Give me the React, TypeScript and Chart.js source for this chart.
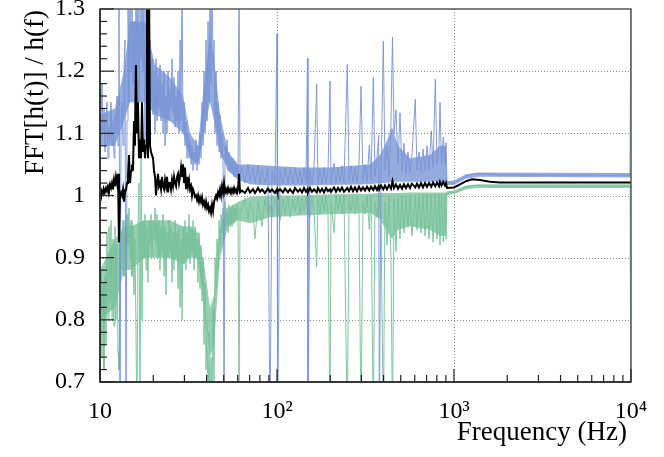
import React, {useEffect, useRef} from 'react';
import {Chart, registerables, Plugin} from 'chart.js';

Chart.register(...registerables);

// frequency bins (Hz), shared by the three ratio curves
const freq = [
    10.00, 10.13, 10.26, 10.40, 10.53, 10.67, 10.81, 10.95, 11.10, 11.24,
    11.39, 11.54, 11.69, 11.84, 12.00, 12.15, 12.31, 12.47, 12.64, 12.80,
    12.97, 13.14, 13.32, 13.49, 13.66, 13.84, 14.03, 14.21, 14.39, 14.58,
    14.77, 14.97, 15.16, 15.36, 15.56, 15.76, 15.97, 16.18, 16.39, 16.61,
    16.83, 17.05, 17.27, 17.50, 17.73, 17.96, 18.20, 18.43, 18.67, 18.92,
    19.17, 19.42, 19.67, 19.93, 20.19, 20.46, 20.73, 21.00, 21.27, 21.55,
    21.83, 22.12, 22.41, 22.70, 23.00, 23.30, 23.60, 23.91, 24.23, 24.54,
    24.87, 25.19, 25.52, 25.86, 26.20, 26.54, 26.89, 27.24, 27.60, 27.96,
    28.33, 28.70, 29.07, 29.45, 29.84, 30.23, 30.63, 31.03, 31.43, 31.85,
    32.26, 32.69, 33.11, 33.55, 33.99, 34.43, 34.88, 35.34, 35.80, 36.27,
    36.75, 37.23, 37.72, 38.21, 38.71, 39.22, 39.73, 40.25, 40.78, 41.31,
    41.85, 42.40, 42.96, 43.52, 44.09, 44.67, 45.25, 45.84, 46.44, 47.05,
    47.67, 48.29, 48.93, 49.57, 50.21, 50.87, 51.54, 52.21, 52.90, 53.59,
    54.29, 55.00, 55.72, 56.45, 57.19, 57.94, 58.70, 59.47, 60.25, 61.04,
    61.84,
    63.4, 65.9, 68.6, 70.4, 73.2, 75.1, 78.1, 80.2, 82.3, 85.5,
    88.9, 91.3, 93.7, 97.4, 100.0, 100.7, 104.0, 108.1, 111.0, 115.4,
    118.4, 123.1, 126.4, 131.4, 134.9, 138.4, 142.1, 145.8, 148.7, 149.6,
    153.6, 157.6, 161.8, 167.6, 170.4, 175.1, 179.6, 184.3, 189.2, 194.2,
    199.3, 201.9, 209.9, 215.4, 221.1, 226.9, 232.9, 239.0, 249.6, 255.2,
    261.9, 268.8, 275.9, 283.1, 290.6, 298.3, 306.1, 314.2, 322.5, 332.3,
    339.8, 350.0, 357.8, 367.2, 375.4, 378.4, 386.8, 398.7, 407.6, 418.3,
    429.3, 440.6, 449.3, 458.2, 470.2, 482.6, 495.3, 508.3, 521.7, 535.4,
    549.5, 564.0, 578.8, 604.3, 618.0, 634.3, 651.0, 668.1, 685.7, 703.9,
    722.4, 744.3, 761.0, 784.1, 801.6, 822.7, 833.5, 850.0, 870.1, 889.6,
    901.3, 913.1,
    1000, 1081, 1169, 1264, 1402, 1597, 1819, 3972, 9870, 10000,
];

const blueRatio = [
    1.09, 1.12, 1.18, 1.10, 1.14, 1.07, 1.12, 1.15, 1.06, 1.11,
    1.09, 1.15, 1.08, 1.12, 1.06, 1.13, 1.10, 1.16, 1.08, 1.35,
    0.60, 1.10, 1.15, 1.08, 1.20, 1.25, 0.62, 1.12, 1.35, 1.15,
    1.35, 1.20, 1.35, 1.18, 1.28, 1.12, 1.35, 1.20, 1.35, 1.15,
    1.30, 1.22, 1.35, 1.20, 1.35, 1.08, 1.30, 1.15, 1.35, 1.12,
    1.25, 1.15, 1.22, 1.13, 1.20, 1.10, 1.22, 1.12, 1.19, 1.14,
    1.21, 1.12, 1.18, 1.10, 1.20, 1.08, 1.16, 1.10, 1.20, 1.12,
    1.17, 1.14, 1.22, 1.13, 1.19, 1.11, 1.16, 1.12, 1.20, 1.10,
    1.25, 1.12, 1.35, 1.10, 1.15, 1.08, 1.12, 1.06, 1.10, 1.06,
    1.09, 1.05, 1.08, 1.04, 1.07, 1.05, 1.09, 1.04, 1.08, 1.05,
    1.10, 1.06, 1.15, 1.08, 1.20, 1.10, 1.25, 1.12, 1.28, 1.15,
    1.35, 1.18, 1.35, 1.20, 1.25, 1.10, 1.20, 1.08, 1.15, 1.07,
    1.13, 1.06, 1.10, 1.05, 0.62, 1.08, 1.05, 1.09, 1.04, 1.07,
    1.04, 1.06, 1.035, 1.06, 1.03, 1.055, 1.03, 1.05, 1.03, 1.35,
    1.03,
    1.045, 1.02, 1.05, 1.025, 1.045, 1.02, 1.048, 1.018, 1.042, 1.02,
    1.045, 0.62, 1.04, 1.02, 1.26, 0.62, 1.04, 1.018, 1.045, 1.02,
    1.042, 1.018, 1.045, 1.02, 1.04, 1.018, 1.045, 1.02, 1.221, 0.62,
    1.04, 1.018, 1.045, 1.179, 1.02, 1.042, 1.018, 1.045, 1.02, 1.04,
    1.184, 1.02, 1.052, 1.02, 1.045, 1.022, 1.048, 1.02, 1.211, 1.025,
    1.048, 1.022, 1.045, 1.02, 1.05, 1.176, 1.025, 1.05, 1.022, 1.081,
    1.025, 1.19, 1.03, 1.06, 1.097, 0.62, 1.03, 1.248, 1.04, 1.08,
    1.03, 1.12, 1.255, 1.10, 1.138, 1.05, 1.133, 1.04, 1.084, 1.035,
    1.07, 1.035, 1.065, 1.155, 1.04, 1.07, 1.038, 1.075, 1.04, 1.08,
    1.04, 1.104, 1.045, 1.187, 1.05, 1.08, 1.15, 1.05, 1.094, 1.05,
    1.085, 1.02,
    1.02, 1.025, 1.031, 1.034, 1.035, 1.034, 1.033, 1.033, 1.033, 1.35,
];

const greenRatio = [
    0.88, 0.82, 0.74, 0.86, 0.72, 0.87, 0.76, 0.94, 0.80, 0.95,
    0.83, 0.96, 0.80, 0.93, 0.79, 0.95, 0.80, 0.92, 0.75, 0.72,
    0.90, 0.94, 0.88, 0.96, 0.87, 0.95, 0.90, 0.97, 0.92, 0.98,
    0.90, 0.96, 0.87, 0.95, 0.84, 0.93, 0.78, 0.62, 0.95, 1.02,
    0.62, 1.085, 0.80, 0.96, 0.90, 0.97, 0.88, 0.95, 0.86, 0.96,
    0.92, 0.97, 0.90, 0.96, 0.93, 0.98, 0.92, 0.97, 0.90, 0.96,
    0.88, 0.95, 0.91, 0.97, 0.87, 0.95, 0.84, 0.94, 0.90, 0.96,
    0.91, 0.95, 0.86, 0.94, 0.88, 0.96, 0.90, 0.94, 0.85, 0.95,
    0.82, 0.93, 0.80, 0.95, 0.89, 0.96, 0.88, 0.94, 0.90, 0.97,
    0.89, 0.95, 0.91, 0.96, 0.88, 0.95, 0.90, 0.93, 0.86, 0.94,
    0.85, 0.92, 0.83, 0.90, 0.76, 0.86, 0.72, 0.80, 0.65, 0.78,
    0.65, 0.74, 0.66, 0.82, 0.70, 0.90, 0.85, 0.93, 0.88, 0.96,
    0.92, 0.97, 0.94, 0.98, 0.93, 0.99, 0.95, 0.98, 0.94, 0.985,
    0.95, 0.98, 0.95, 0.985, 0.955, 0.98, 0.96, 0.985, 0.96, 0.65,
    0.98,
    0.975, 0.995, 0.96, 0.99, 0.975, 0.93, 0.99, 0.97, 0.95, 0.995,
    0.97, 0.985, 0.965, 0.995, 0.975, 0.99, 0.96, 0.995, 0.97, 0.998,
    0.965, 0.995, 0.975, 0.998, 0.97, 0.996, 0.975, 0.998, 0.98, 0.995,
    0.965, 0.998, 0.975, 0.885, 0.995, 0.97, 0.998, 0.975, 1.0, 0.97,
    0.62, 0.99, 0.94, 1.0, 0.975, 0.998, 0.97, 1.0, 0.62, 0.99,
    0.975, 1.0, 0.97, 1.0, 0.975, 0.62, 0.99, 0.97, 1.0, 0.945,
    1.0, 0.62, 0.99, 0.965, 1.0, 0.99, 0.97, 0.62, 0.99, 0.92,
    1.0, 0.90, 0.62, 0.995, 0.91, 1.0, 0.93, 1.0, 0.94, 1.0,
    0.95, 1.0, 0.935, 1.0, 0.945, 1.0, 0.94, 1.002, 0.935, 1.002,
    0.93, 1.002, 0.925, 1.003, 0.93, 1.003, 0.92, 1.003, 0.925, 1.003,
    0.93, 1.004,
    1.005, 1.009, 1.013, 1.016, 1.016, 1.015, 1.015, 1.015, 1.015, 0.60,
];

const blackRatio = [
    1.005, 1.0, 1.008, 1.003, 1.01, 1.006, 1.012, 1.007, 1.015, 1.01,
    1.018, 1.012, 1.02, 1.01, 1.025, 1.015, 1.03, 1.02, 1.035, 0.925,
    1.0, 1.005, 1.0, 1.01, 0.99, 1.005, 1.01, 1.02, 1.03, 1.065,
    1.02, 1.04, 1.05, 1.04, 1.12, 1.08, 1.21, 1.10, 1.15, 1.06,
    1.09, 1.06, 1.15, 1.07, 1.09, 1.06, 1.08, 1.35, 1.06, 1.35,
    1.08, 1.07, 1.065, 1.06, 1.04, 1.03, 1.0, 1.02, 1.035, 1.015,
    1.02, 1.01, 1.03, 1.015, 1.01, 1.025, 1.015, 1.03, 1.005, 1.02,
    1.02, 1.01, 1.025, 1.015, 1.03, 1.02, 1.015, 1.03, 1.035, 1.02,
    1.03, 1.045, 1.03, 1.05, 1.02, 1.045, 1.01, 1.03, 1.015, 1.025,
    1.01, 1.015, 1.0, 1.01, 1.005, 0.998, 1.0, 0.993, 1.0, 0.99,
    0.997, 0.99, 0.997, 0.985, 0.99, 0.982, 0.99, 0.98, 0.985, 0.975,
    0.98, 0.972, 0.985, 0.975, 0.99, 0.995, 1.0, 0.995, 1.005, 1.0,
    1.01, 1.0, 1.015, 1.005, 1.02, 1.005, 1.01, 1.005, 1.012, 1.006,
    1.01, 1.004, 1.01, 1.005, 1.012, 1.006, 1.01, 1.004, 1.01, 1.035,
    1.005,
    1.008, 1.004, 1.012, 1.005, 1.01, 1.004, 1.012, 1.006, 1.01, 1.004,
    1.011, 1.006, 1.01, 1.004, 1.01, 1.006, 1.01, 1.005, 1.011, 1.005,
    1.01, 1.004, 1.012, 1.006, 1.01, 1.005, 1.012, 1.006, 1.01, 1.005,
    1.012, 1.006, 1.01, 1.005, 1.012, 1.006, 1.011, 1.005, 1.012, 1.007,
    1.01, 1.006, 1.013, 1.006, 1.012, 1.007, 1.013, 1.006, 1.012, 1.007,
    1.014, 1.007, 1.013, 1.007, 1.014, 1.008, 1.013, 1.008, 1.014, 1.008,
    1.014, 1.009, 1.015, 1.009, 1.015, 1.01, 1.016, 1.01, 1.016, 1.01,
    1.017, 1.011, 1.023, 1.012, 1.018, 1.011, 1.017, 1.011, 1.018, 1.012,
    1.018, 1.012, 1.019, 1.013, 1.019, 1.013, 1.02, 1.013, 1.02, 1.014,
    1.02, 1.014, 1.021, 1.015, 1.021, 1.015, 1.022, 1.016, 1.022, 1.016,
    1.02, 1.012,
    1.013, 1.018, 1.023, 1.026, 1.025, 1.022, 1.021, 1.021, 1.021, 1.021,
];

// min / max envelope of the bulk of the upper and lower curves
const bandFreq = [
    10.0, 12.15, 13.66, 14.77, 17.96, 20.46, 24.87, 29.45, 32.26, 35.8,
    38.71, 41.85, 44.09, 47.67, 52.9, 60.25, 70.4, 91.3, 134.9, 199.3,
    335.3, 381.8, 412.9, 446.4, 482.6, 564.0, 731.0, 833.5, 901.3, 913.1,
    1000, 1169, 1366, 10000,
];
const blueBandLo = [
    1.08, 1.08, 1.12, 1.15, 1.15, 1.13, 1.12, 1.10, 1.06, 1.05,
    1.10, 1.15, 1.12, 1.07, 1.04, 1.025, 1.018, 1.016, 1.016, 1.017,
    1.018, 1.02, 1.02, 1.022, 1.022, 1.022, 1.022, 1.022, 1.022, 1.017,
    1.017, 1.027, 1.03, 1.029,
];
const blueBandHi = [
    1.13, 1.14, 1.20, 1.28, 1.28, 1.21, 1.19, 1.16, 1.10, 1.08,
    1.18, 1.26, 1.22, 1.13, 1.07, 1.05, 1.05, 1.048, 1.045, 1.045,
    1.05, 1.065, 1.085, 1.11, 1.08, 1.06, 1.065, 1.08, 1.08, 1.023,
    1.024, 1.034, 1.037, 1.036,
];
const greenBandLo = [
    0.80, 0.82, 0.88, 0.88, 0.90, 0.90, 0.90, 0.89, 0.90, 0.90,
    0.82, 0.74, 0.76, 0.90, 0.95, 0.96, 0.955, 0.965, 0.968, 0.97,
    0.972, 0.962, 0.945, 0.93, 0.945, 0.95, 0.945, 0.935, 0.935, 1.001,
    1.002, 1.01, 1.012, 1.012,
];
const greenBandHi = [
    0.88, 0.93, 0.95, 0.95, 0.96, 0.96, 0.96, 0.95, 0.95, 0.94,
    0.89, 0.82, 0.84, 0.95, 0.98, 0.99, 0.998, 1.0, 1.0, 1.002,
    1.003, 1.004, 1.004, 1.004, 1.004, 1.005, 1.005, 1.005, 1.005, 1.007,
    1.008, 1.016, 1.018, 1.018,
];

const yTickValues = [0.7, 0.8, 0.9, 1.0, 1.1, 1.2, 1.3];
const yTickLabels = ['0.7', '0.8', '0.9', '1', '1.1', '1.2', '1.3'];
const yMinorTicks = [0.72, 0.74, 0.76, 0.78, 0.82, 0.84, 0.86, 0.88, 0.92, 0.94, 0.96, 0.98,
    1.02, 1.04, 1.06, 1.08, 1.12, 1.14, 1.16, 1.18, 1.22, 1.24, 1.26, 1.28];
const yGridValues = [0.8, 0.9, 1.0, 1.1, 1.2];
const xTickValues = [10, 100, 1000, 10000];
const xTickLabels = ['10', '10²', '10³', '10⁴'];
const xMinorTicks = [20, 30, 40, 50, 60, 70, 80, 90, 200, 300, 400, 500, 600, 700, 800, 900,
    2000, 3000, 4000, 5000, 6000, 7000, 8000, 9000];
const xGridValues = [100, 1000];

const xTitle = 'Frequency (Hz)';
const yTitle = 'FFT[h(t)] / h(f)';

const SERIF = '"Liberation Serif", "Times New Roman", serif';
const BLUE_LINE = 'rgba(120, 148, 213, 0.9)';
const BLUE_FILL = 'rgba(122, 150, 213, 0.8)';
const GREEN_LINE = 'rgba(118, 192, 152, 0.9)';
const GREEN_FILL = 'rgba(124, 195, 158, 0.8)';
const NONE = 'rgba(0,0,0,0)';

const pts = (xs: number[], ys: number[]) => xs.map((x, i) => ({x, y: ys[i]}));

const rootFrame: Plugin<'line'> = {
    id: 'rootFrame',
    beforeDatasetsDraw(chart) {
        const {ctx, chartArea: {left, right, top, bottom}, scales: {x, y}} = chart;
        ctx.save();
        ctx.strokeStyle = '#8a8a8a';
        ctx.lineWidth = 1;
        ctx.setLineDash([1, 2]);
        yGridValues.forEach(v => {
            const py = Math.round(y.getPixelForValue(v)) + 0.5;
            ctx.beginPath();
            ctx.moveTo(left, py);
            ctx.lineTo(right, py);
            ctx.stroke();
        });
        xGridValues.forEach(v => {
            const px = Math.round(x.getPixelForValue(v)) + 0.5;
            ctx.beginPath();
            ctx.moveTo(px, top);
            ctx.lineTo(px, bottom);
            ctx.stroke();
        });
        ctx.restore();
    },
    afterDraw(chart) {
        const {ctx, chartArea: {left, right, top, bottom}, scales: {x, y}} = chart;
        ctx.save();
        ctx.strokeStyle = '#555';
        ctx.lineWidth = 1.5;
        ctx.strokeRect(left, top, right - left, bottom - top);
        ctx.strokeStyle = '#222';
        ctx.beginPath();
        ctx.moveTo(left, top);
        ctx.lineTo(left, bottom);
        ctx.lineTo(right, bottom);
        ctx.stroke();

        ctx.lineWidth = 1.2;
        const tick = (px: number, py: number, dx: number, dy: number) => {
            ctx.beginPath();
            ctx.moveTo(px, py);
            ctx.lineTo(px + dx, py + dy);
            ctx.stroke();
        };
        yTickValues.forEach(v => tick(left, y.getPixelForValue(v), 14, 0));
        yMinorTicks.forEach(v => tick(left, y.getPixelForValue(v), 7, 0));
        xTickValues.forEach(v => tick(x.getPixelForValue(v), bottom, 0, -13));
        xMinorTicks.forEach(v => tick(x.getPixelForValue(v), bottom, 0, -7));

        ctx.fillStyle = '#000';
        ctx.font = `27px ${SERIF}`;
        ctx.textAlign = 'right';
        ctx.textBaseline = 'alphabetic';
        ctx.fillText(xTitle, 627, 440);

        ctx.translate(43, 10);
        ctx.rotate(-Math.PI / 2);
        ctx.fillText(yTitle, 0, 0);
        ctx.restore();
    },
};

export default function App() {
    const canvasRef = useRef<HTMLCanvasElement>(null);

    useEffect(() => {
        if (!canvasRef.current) return;
        const chart = new Chart(canvasRef.current, {
            type: 'line',
            data: {
                datasets: [
                    {label: 'ratio', data: pts(freq, blackRatio), borderColor: '#000', borderWidth: 2, order: 0},
                    {label: 'upper', data: pts(freq, blueRatio), borderColor: BLUE_LINE, borderWidth: 1, order: 1},
                    {label: 'lower', data: pts(freq, greenRatio), borderColor: GREEN_LINE, borderWidth: 1, order: 2},
                    {label: 'upper max', data: pts(bandFreq, blueBandHi), borderColor: NONE, backgroundColor: BLUE_FILL, fill: '+1', order: 3},
                    {label: 'upper min', data: pts(bandFreq, blueBandLo), borderColor: NONE, order: 4},
                    {label: 'lower max', data: pts(bandFreq, greenBandHi), borderColor: NONE, backgroundColor: GREEN_FILL, fill: '+1', order: 5},
                    {label: 'lower min', data: pts(bandFreq, greenBandLo), borderColor: NONE, order: 6},
                ],
            },
            options: {
                responsive: false,
                animation: false,
                layout: {padding: {top: 9, right: 33, left: 0, bottom: 0}},
                elements: {point: {radius: 0}, line: {tension: 0}},
                plugins: {legend: {display: false}, tooltip: {enabled: false}},
                scales: {
                    x: {
                        type: 'logarithmic',
                        min: 10,
                        max: 10000,
                        grid: {display: false},
                        border: {display: false},
                        afterBuildTicks: s => { s.ticks = xTickValues.map(value => ({value})); },
                        afterFit: s => { s.height = 75; s.paddingLeft = 0; s.paddingRight = 0; },
                        ticks: {
                            autoSkip: false,
                            maxRotation: 0,
                            padding: 7,
                            color: '#000',
                            font: {family: SERIF, size: 24},
                            callback: (_v, i) => xTickLabels[i],
                        },
                    },
                    y: {
                        type: 'linear',
                        min: 0.7,
                        max: 1.3,
                        grid: {display: false},
                        border: {display: false},
                        afterBuildTicks: s => { s.ticks = yTickValues.map(value => ({value})); },
                        afterFit: s => { s.width = 100; s.paddingTop = 0; s.paddingBottom = 0; },
                        ticks: {
                            padding: 7,
                            color: '#000',
                            font: {family: SERIF, size: 24},
                            callback: (_v, i) => yTickLabels[i],
                        },
                    },
                },
            },
            plugins: [rootFrame],
        });
        return () => chart.destroy();
    }, []);

    return (
        <div style={{position: 'absolute', left: 0, top: 0, width: 664, height: 457, background: '#fff'}}>
            <canvas ref={canvasRef} width={664} height={457}/>
        </div>
    );
}
